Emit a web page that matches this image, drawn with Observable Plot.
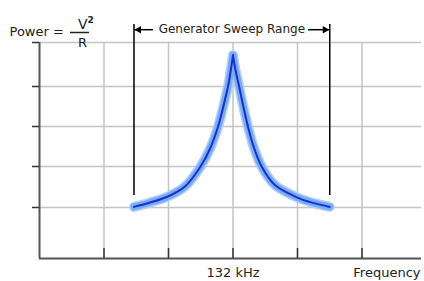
<!DOCTYPE html>
<html><head><meta charset="utf-8">
<script src="https://cdn.jsdelivr.net/npm/d3@7"></script>
<script src="https://cdn.jsdelivr.net/npm/@observablehq/plot@0.6"></script>
<style>body{margin:0;background:#fff}svg{display:block}</style>
</head><body><div id="chart"></div>
<script>
// Frequency (kHz) and power (arbitrary units)
const curveFreq  = [128.93, 129.43, 129.98, 130.51, 130.98, 131.29, 131.53, 131.70, 131.845, 131.93, 132.0, 132.08, 132.19, 132.32, 132.47, 132.65, 132.90, 133.30, 133.98, 134.48, 135.0];
const curvePower = [1.29, 1.40, 1.55, 1.80, 2.28, 2.75, 3.28, 3.8, 4.3, 4.7, 5.08, 4.7, 4.3, 3.8, 3.28, 2.77, 2.28, 1.835, 1.53, 1.39, 1.29];
const xTicks = [128, 130, 132, 134, 136];
const yTicks = [1.275, 2.3, 3.3, 4.3, 5.4];
const sweepRange = [128.93, 135.0];
const sweepTop = 5.85, sweepBottom = 1.575;
const centerFreq = 132;
const centerLabel = "132 kHz";
const xLabel = "Frequency";
const sweepLabel = "Generator Sweep Range";
const arrowShafts = [{x1: 128.93, x2: 129.52}, {x1: 134.33, x2: 135.0}];

const peakIndex = curvePower.indexOf(d3.max(curvePower));
const rows = [];
curveFreq.forEach((f, i) => {
  if (i <= peakIndex) rows.push({f, p: curvePower[i], side: "L"});
  if (i >= peakIndex) rows.push({f, p: curvePower[i], side: "R"});
});

const font = "DejaVu Sans, Verdana, sans-serif";
const axisColor = "#555";
const textColor = "#222";
const arrowY = 5.72;
const fs = 13;

const chart = Plot.plot({
  width: 424, height: 281,
  marginLeft: 39, marginRight: 3, marginTop: 42, marginBottom: 23,
  x: {domain: [126, 137.845], axis: null},
  y: {domain: [0, 5.4], axis: null},
  style: {background: "#fff", fontFamily: font},
  marks: [
    Plot.gridY(yTicks, {stroke: "#c4c4c4", strokeOpacity: 1, strokeWidth: 1.5}),
    Plot.gridX(xTicks, {stroke: "#c4c4c4", strokeOpacity: 1, strokeWidth: 1.5}),
    Plot.ruleX(sweepRange, {y1: sweepTop, y2: sweepBottom, stroke: "#000", strokeWidth: 1.5}),
    Plot.line(rows, {x: "f", y: "p", z: "side", curve: "catmull-rom", stroke: "#b3d0f8", strokeWidth: 10}),
    Plot.line(rows, {x: "f", y: "p", z: "side", curve: "catmull-rom", stroke: "#7aaaf2", strokeWidth: 7}),
    Plot.line(rows, {x: "f", y: "p", z: "side", curve: "catmull-rom", stroke: "#1530d0", strokeWidth: 2}),
    // axes
    Plot.ruleX([126], {stroke: axisColor, strokeWidth: 2}),
    Plot.ruleY([0], {stroke: axisColor, strokeWidth: 2}),
    Plot.ruleX(xTicks, {y1: 0, y2: 0, insetTop: -10, stroke: "#333", strokeWidth: 1.5}),
    Plot.ruleY(yTicks, {x1: 126, x2: 126, insetLeft: -7, stroke: "#333", strokeWidth: 1.5}),
    // sweep annotation
    Plot.link(arrowShafts, {x1: "x1", x2: "x2", y1: arrowY, y2: arrowY, stroke: "#000", strokeWidth: 1.5}),
    Plot.dot([sweepRange[0]], {x: d => d, y: arrowY, symbol: "triangle", rotate: -90, r: 2.8, fill: "#000", stroke: null, dx: 4.8}),
    Plot.dot([sweepRange[1]], {x: d => d, y: arrowY, symbol: "triangle", rotate: 90, r: 2.8, fill: "#000", stroke: null, dx: -4.8}),
    Plot.text([sweepLabel], {x: d3.mean(sweepRange), y: arrowY, text: d => d, fontSize: 12, fill: textColor, dy: -0.5}),
    // x labels
    Plot.text([centerLabel], {x: centerFreq, frameAnchor: "bottom", text: d => d, fontSize: fs, fill: textColor, dy: 14, lineAnchor: "middle"}),
    Plot.text([xLabel], {frameAnchor: "bottom-right", text: d => d, fontSize: fs, fill: textColor, dy: 14, dx: -1, textAnchor: "end", lineAnchor: "middle"}),
    // y label: Power = V²/R
    Plot.text(["Power ="], {frameAnchor: "top-left", text: d => d, fontSize: fs, fill: textColor, dx: -30, dy: -11, textAnchor: "start", lineAnchor: "middle"}),
    Plot.text(["V"], {frameAnchor: "top-left", text: d => d, fontSize: 14, fill: textColor, dx: 38.5, dy: -18, lineAnchor: "middle"}),
    Plot.text(["2"], {frameAnchor: "top-left", text: d => d, fontSize: 9, fill: textColor, dx: 48, dy: -22, lineAnchor: "middle", fontWeight: "bold"}),
    Plot.ruleY([5.4], {x1: 126, x2: 126, insetLeft: 31, insetRight: -50, dy: -10, stroke: textColor, strokeWidth: 1.5}),
    Plot.text(["R"], {frameAnchor: "top-left", text: d => d, fontSize: fs, fill: textColor, dx: 38.5, dy: 0.5, lineAnchor: "middle"})
  ]
});
document.getElementById("chart").appendChild(chart);
</script>
</body></html>
